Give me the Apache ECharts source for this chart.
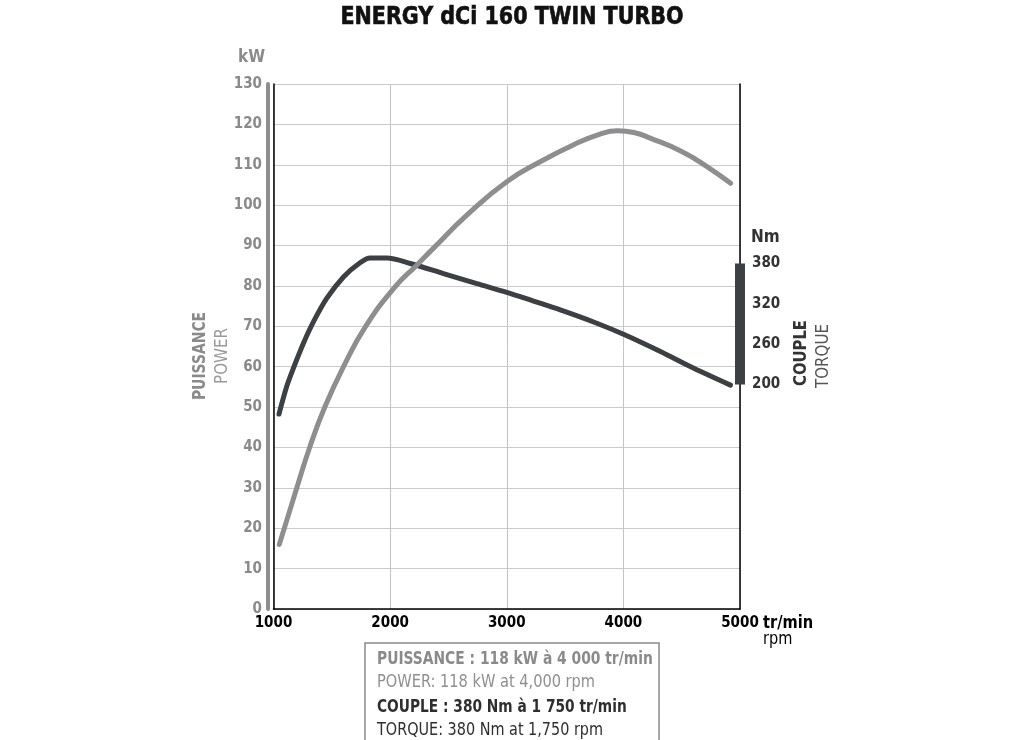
<!DOCTYPE html>
<html><head><meta charset="utf-8">
<script src="https://cdn.jsdelivr.net/npm/echarts@6/dist/echarts.min.js"></script>
<style>html,body{margin:0;padding:0;background:#fff}#c{width:1024px;height:740px}</style>
</head><body><div id="c"></div>
<script>
const titleText = 'ENERGY dCi 160 TWIN TURBO';
const rpmTicks = [1000, 2000, 3000, 4000, 5000];
const powerTicks = [0,10,20,30,40,50,60,70,80,90,100,110,120,130];
const torqueTicks = [200, 260, 320, 380];
const torqueBarRange = [200, 380];
// power curve (rpm, kW)
const powerRpm = [1050,1200,1310,1440,1600,1790,2040,2230,2370,2660,3000,3290,3570,3800,3950,4090,4230,4500,4720,4920];
const powerKw  = [16,30,40,50,60,70,79.7,85.2,89.3,97.6,105.8,110.8,114.9,117.6,118.4,118,116.6,113.3,109.5,105.4];
// torque curve (rpm, Nm)
const torqueRpm = [1047,1113,1170,1256,1342,1456,1600,1742,1828,1972,2172,2457,2744,3000,3230,3459,3745,4011,4318,4604,4918];
const torqueNm  = [156,197,224,261,293,328,360,381,388,388,380,365,350,337,324,311,293,274,249,224,199];
const infoLines = [
  'PUISSANCE : 118 kW à 4 000 tr/min',
  'POWER: 118 kW at 4,000 rpm',
  'COUPLE : 380 Nm à 1 750 tr/min',
  'TORQUE: 380 Nm at 1,750 rpm'
];

const FONT = "'Liberation Sans Narrow','DejaVu Sans Condensed','Roboto',sans-serif";
const powerColor = '#8e8e90';
const torqueColor = '#3d4043';
const chart = echarts.init(document.getElementById('c'));
const zip = (a,b) => a.map((v,i)=>[v,b[i]]);

function vtext(x, y, text, color, weight, size, sx) {
  return {type: 'text', x: x, y: y, rotation: Math.PI/2, scaleX: sx,
    style: {text: text, fill: color, font: weight + ' ' + size + 'px ' + FONT, align: 'center', verticalAlign: 'middle'}};
}
function htext(x, y, text, color, weight, size, sx) {
  return {type: 'text', x: x, y: y, scaleX: sx,
    style: {text: text, fill: color, font: weight + ' ' + size + 'px ' + FONT, align: 'left', verticalAlign: 'middle'}};
}

chart.setOption({
  animation: false,
  backgroundColor: '#fff',
  textStyle: {fontFamily: FONT},
  grid: {left: 273.5, right: 284, top: 84, bottom: 131, containLabel: false},
  xAxis: {
    type: 'value', min: 1000, max: 5000, interval: 1000,
    axisLine: {show: true, lineStyle: {color: '#000', width: 1.5}},
    axisTick: {show: false},
    axisLabel: {color: '#000', fontWeight: 'bold', fontSize: 15, fontFamily: FONT, margin: 7,
      formatter: v => String(v)},
    splitLine: {show: true, lineStyle: {color: '#c4c4c4', width: 1}}
  },
  yAxis: [
    {
      type: 'value', min: 0, max: 130, interval: 10, position: 'left', offset: 5.5,
      axisLine: {show: true, lineStyle: {color: '#8e8e90', width: 4}},
      axisTick: {show: false},
      axisLabel: {color: '#8a8a8a', fontWeight: 'bold', fontSize: 15, fontFamily: FONT, margin: 6},
      splitLine: {show: true, lineStyle: {color: '#cbcbcb', width: 1}}
    },
    {
      type: 'value', min: -134, max: 647, position: 'right',
      axisLine: {show: true, onZero: false, lineStyle: {color: '#000', width: 1.5}},
      axisTick: {show: false},
      axisLabel: {customValues: torqueTicks, color: '#333', fontWeight: 'bold', fontSize: 15, fontFamily: FONT, margin: 12},
      splitLine: {show: false}
    },
    {
      type: 'value', min: 0, max: 130, position: 'left', offset: 0,
      axisLine: {show: true, onZero: false, lineStyle: {color: '#000', width: 1.5}},
      axisTick: {show: false}, axisLabel: {show: false}, splitLine: {show: false}
    }
  ],
  series: [
    {
      type: 'line', yAxisIndex: 1, data: zip(torqueRpm, torqueNm),
      smooth: 0.3, symbol: 'none',
      lineStyle: {color: torqueColor, width: 5, cap: 'round'}, z: 3
    },
    {
      type: 'line', yAxisIndex: 0, data: zip(powerRpm, powerKw),
      smooth: 0.5, symbol: 'none',
      lineStyle: {color: powerColor, width: 5, cap: 'round'}, z: 4
    },
    {
      type: 'line', yAxisIndex: 1, clip: false,
      data: torqueBarRange.map(v => [5000, v]),
      symbol: 'none', silent: true,
      lineStyle: {color: torqueColor, width: 10, cap: 'butt'}, z: 5
    }
  ],
  graphic: [
    {type: 'text', x: 512, y: 18, scaleX: 0.955,
      style: {text: titleText, fill: '#111', stroke: '#111', lineWidth: 0.6, font: 'bold 24px ' + FONT, align: 'center', verticalAlign: 'middle'}},
    {type: 'text', left: 238, top: 49, style: {text: 'kW', fill: '#8a8a8a', font: "bold 17px " + FONT}},
    {type: 'text', left: 751, top: 229, style: {text: 'Nm', fill: '#333', font: "bold 17px " + FONT}},
    htext(763, 623, 'tr/min', '#000', 'bold', 18, 0.9),
    htext(763, 640, 'rpm', '#000', 'normal', 17, 0.95),
    vtext(200, 356, 'PUISSANCE', '#8a8a8a', 'bold', 18, 0.86),
    vtext(222, 356, 'POWER', '#9a9a9a', 'normal', 18, 0.93),
    vtext(801, 353, 'COUPLE', '#333', 'bold', 18, 0.915),
    vtext(823, 356, 'TORQUE', '#555', 'normal', 18, 0.93),
    {type: 'rect', shape: {x: 365, y: 643, width: 294, height: 110},
      style: {fill: 'none', stroke: '#8a8a8a', lineWidth: 1.5}},
    htext(377, 659, infoLines[0], '#8a8a8a', 'bold', 18, 0.855),
    htext(377, 682, infoLines[1], '#8f8f8f', 'normal', 18, 0.9),
    htext(377, 707, infoLines[2], '#2e2e2e', 'bold', 18, 0.85),
    htext(377, 730, infoLines[3], '#2e2e2e', 'normal', 18, 0.89)
  ]
});
</script></body></html>
